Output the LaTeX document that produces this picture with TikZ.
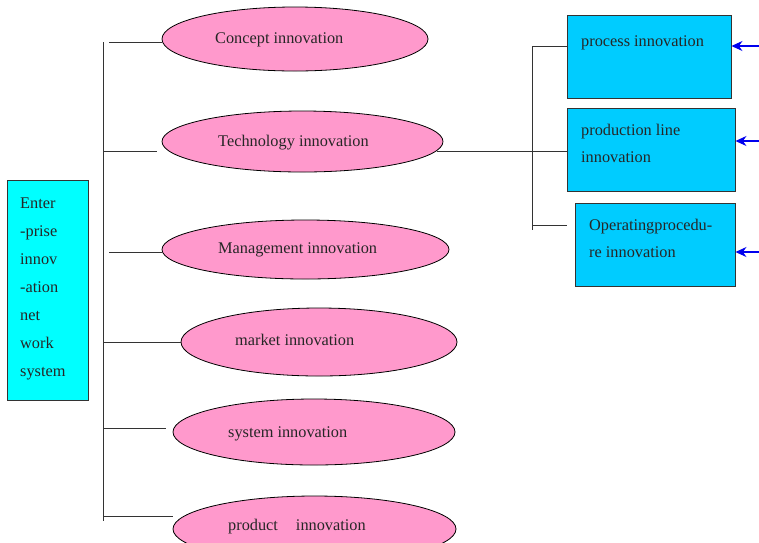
\documentclass[tikz,border=0pt]{standalone}
\usepackage{fontspec}
\setmainfont{Liberation Serif}
\usetikzlibrary{shapes.geometric,arrows.meta}
\definecolor{pinkfill}{HTML}{FF99CC}
\definecolor{cyanfill}{HTML}{00FFFF}
\definecolor{bluefill}{HTML}{00CCFF}
\definecolor{linecol}{HTML}{333333}
\definecolor{arrowblue}{HTML}{0000EE}
\begin{document}
\begin{tikzpicture}[x=1pt,y=-1pt,
  txt/.style={font=\fontsize{16.3}{28}\selectfont,text=black!85,inner sep=0pt},
  oval/.style={ellipse,draw=black,fill=pinkfill,line width=0.8pt,inner sep=0pt},
  leftbox/.style={draw=linecol,fill=cyanfill,line width=0.9pt,inner sep=0pt},
  rbox/.style={draw=linecol,fill=bluefill,line width=0.9pt,inner sep=0pt},
  conn/.style={draw=linecol,line width=0.9pt},
  inarrow/.style={draw=arrowblue,line width=1.1pt,-{Stealth[length=11pt,width=10pt]}}]
\useasboundingbox (0,0) rectangle (759,542);
% left box
\node[leftbox,minimum width=81pt,minimum height=220pt] (L) at (47.5,290) {};
\node[txt,align=left,anchor=base west] (Lt) at (20,376) {Enter\\-prise\\innov\\-ation\\net\\work\\system};
% ellipses
\node[oval,minimum width=266pt,minimum height=64pt] (e1) at (295,39) {};
\node[oval,minimum width=281pt,minimum height=61pt] (e2) at (302.5,141.5) {};
\node[oval,minimum width=287pt,minimum height=59pt] (e3) at (305.5,249.5) {};
\node[oval,minimum width=276pt,minimum height=68pt] (e4) at (319,342) {};
\node[oval,minimum width=282pt,minimum height=66pt] (e5) at (314,432) {};
\node[oval,minimum width=283pt,minimum height=66pt] (e6) at (314.5,529) {};
\node[txt,anchor=base west] (t1) at (215,43.5) {Concept innovation};
\node[txt,anchor=base west] (t2) at (218,146) {Technology innovation};
\node[txt,anchor=base west] (t3) at (218,253) {Management innovation};
\node[txt,anchor=base west] (t4) at (235,345) {market innovation};
\node[txt,anchor=base west] (t5) at (228,437) {system innovation};
\node[txt,anchor=base west] (t6) at (228,530) {product\hspace{18pt}innovation};
% right boxes
\node[rbox,minimum width=164pt,minimum height=83pt] (b1) at (649,56.5) {};
\node[rbox,minimum width=168pt,minimum height=83pt] (b2) at (651,149.5) {};
\node[rbox,minimum width=160pt,minimum height=83pt] (b3) at (655,244.5) {};
\node[txt,anchor=base west] (bt1) at (581,46) {process innovation};
\node[txt,anchor=base west,align=left] (bt2) at (581,162) {production line\\[-1.5pt]innovation};
\node[txt,anchor=base west,align=left] (bt3) at (589,257) {Operatingprocedu-\\[-1.5pt]re innovation};
% trunk
\coordinate (tt) at (103,42);
\coordinate (tb) at (103,521);
\draw[conn] (tt) -- (tb);
\coordinate (c1) at (109,42);
\coordinate (c2) at (103,151);
\coordinate (c2e) at (157,151);
\coordinate (c3) at (109,252);
\coordinate (c4) at (103,342);
\coordinate (c5) at (103,428);
\coordinate (c5e) at (166,428);
\coordinate (c6) at (103,516);
\draw[conn] (c1) -- (e1.west |- c1);
\draw[conn] (c2) -- (c2e);
\draw[conn] (c3) -- (e3.west |- c3);
\draw[conn] (c4) -- (e4.west);
\draw[conn] (c5) -- (c5e);
\draw[conn] (c6) -- (c6 -| e6.west);
% right trunk
\coordinate (rt) at (532,46);
\coordinate (rb) at (532,230);
\draw[conn] (rt) -- (rb);
\coordinate (te) at (437,151);
\draw[conn] (te) -- (b2.west |- te);
\draw[conn] (rt) -- (b1.west |- rt);
\coordinate (r3) at (532,225);
\coordinate (r3e) at (567,225);
\draw[conn] (r3) -- (r3e);
% arrows
\coordinate (a1) at (759,46);
\coordinate (a2) at (759,141);
\coordinate (a3) at (759,252);
\draw[inarrow] (a1) -- (b1.east |- a1);
\draw[inarrow] (a2) -- (b2.east |- a2);
\draw[inarrow] (a3) -- (b3.east |- a3);
\end{tikzpicture}
\end{document}
